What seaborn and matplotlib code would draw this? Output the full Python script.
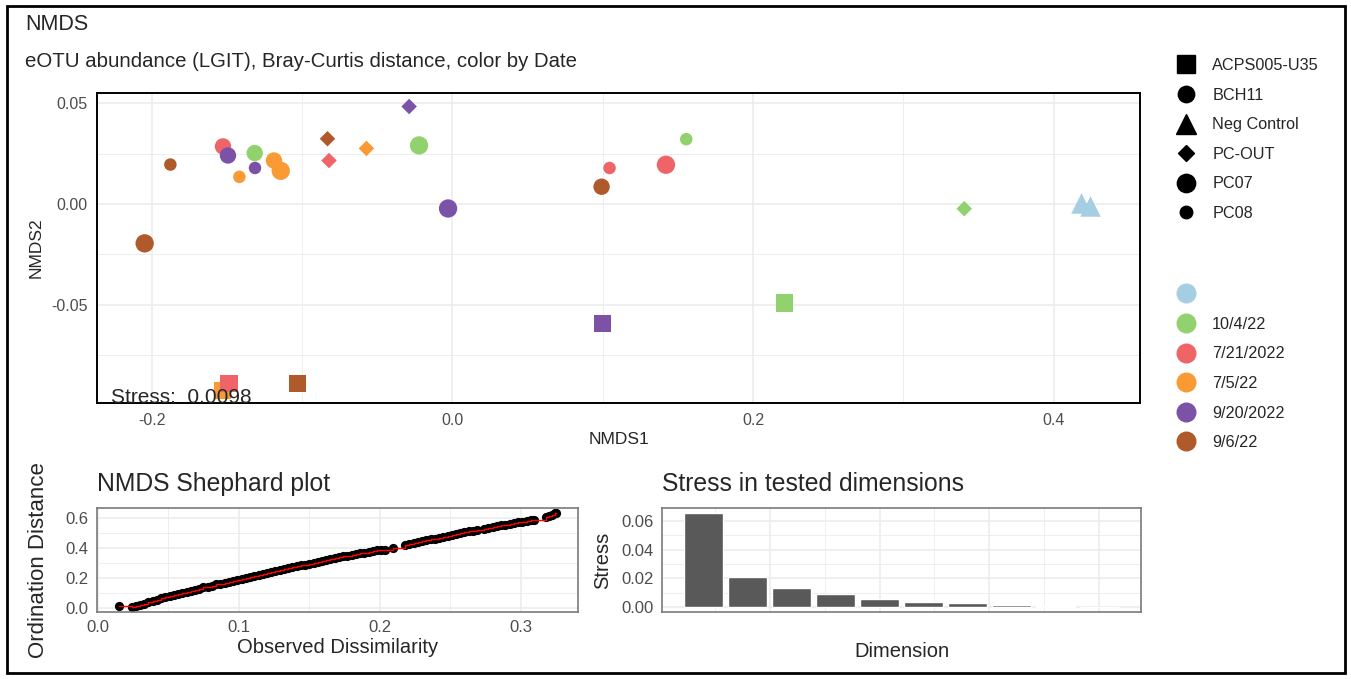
import pandas as pd
import seaborn as sns
import matplotlib.pyplot as plt
from matplotlib.lines import Line2D
from matplotlib.patches import Rectangle

# NMDS site scores
site = (["ACPS005-U35"] * 5 + ["BCH11"] * 5 + ["Neg Control"] * 2
        + ["PC-OUT"] * 5 + ["PC07"] * 5 + ["PC08"] * 5)
date = ["7/5/22", "7/21/2022", "9/6/22", "9/20/2022", "10/4/22",
        "7/21/2022", "9/20/2022", "10/4/22", "7/5/22", "9/6/22",
        "", "",
        "9/6/22", "7/21/2022", "7/5/22", "9/20/2022", "10/4/22",
        "9/6/22", "7/5/22", "10/4/22", "9/20/2022", "7/21/2022",
        "9/6/22", "7/5/22", "9/20/2022", "7/21/2022", "10/4/22"]
nmds1 = [-0.1528, -0.1485, -0.1030, 0.0999, 0.2208,
         -0.1525, -0.1492, -0.1314, -0.1186, 0.0993,
         0.4185, 0.4245,
         -0.0830, -0.0820, -0.0571, -0.0287, 0.3405,
         -0.2046, -0.1141, -0.0221, -0.0028, 0.1421,
         -0.1875, -0.1416, -0.1312, 0.1046, 0.1556]
nmds2 = [-0.0924, -0.0891, -0.0891, -0.0592, -0.0491,
         0.0286, 0.0241, 0.0253, 0.0216, 0.0086,
         0.0003, -0.0012,
         0.0324, 0.0216, 0.0276, 0.0484, -0.0023,
         -0.0195, 0.0165, 0.0291, -0.0022, 0.0195,
         0.0196, 0.0135, 0.0179, 0.0179, 0.0322]

site_levels = ["ACPS005-U35", "BCH11", "Neg Control", "PC-OUT", "PC07", "PC08"]
date_levels = ["", "10/4/22", "7/21/2022", "7/5/22", "9/20/2022", "9/6/22"]

# Shephard diagram (observed dissimilarity vs ordination distance)
obs_dissim = [0.015, 0.024, 0.027, 0.030, 0.033, 0.036, 0.039, 0.042, 0.045, 0.048,
              0.051, 0.054, 0.057, 0.060, 0.063, 0.066, 0.069, 0.072, 0.075, 0.078,
              0.081, 0.084, 0.087, 0.090, 0.093, 0.096, 0.099, 0.102, 0.105, 0.108,
              0.111, 0.114, 0.117, 0.120, 0.123, 0.126, 0.129, 0.132, 0.135, 0.138,
              0.141, 0.144, 0.147, 0.150, 0.153, 0.156, 0.159, 0.162, 0.165, 0.168,
              0.171, 0.174, 0.177, 0.180, 0.183, 0.186, 0.189, 0.192, 0.195, 0.198,
              0.201, 0.204, 0.209, 0.218, 0.221, 0.224, 0.227, 0.230, 0.233, 0.236,
              0.239, 0.242, 0.245, 0.248, 0.251, 0.254, 0.257, 0.260, 0.263, 0.266,
              0.269, 0.274, 0.277, 0.280, 0.283, 0.286, 0.289, 0.292, 0.295, 0.298,
              0.301, 0.304, 0.307, 0.309, 0.318, 0.320, 0.322, 0.324, 0.325]
ord_dist = [0.012, 0.006, 0.015, 0.022, 0.030, 0.038, 0.046, 0.055, 0.064, 0.072,
            0.080, 0.087, 0.094, 0.101, 0.108, 0.116, 0.123, 0.130, 0.137, 0.143,
            0.150, 0.157, 0.163, 0.169, 0.175, 0.182, 0.188, 0.195, 0.201, 0.208,
            0.214, 0.220, 0.226, 0.233, 0.240, 0.247, 0.254, 0.260, 0.265, 0.271,
            0.277, 0.283, 0.289, 0.295, 0.300, 0.306, 0.312, 0.318, 0.324, 0.330,
            0.337, 0.343, 0.348, 0.354, 0.359, 0.364, 0.369, 0.374, 0.378, 0.383,
            0.386, 0.388, 0.401, 0.419, 0.426, 0.431, 0.437, 0.443, 0.450, 0.456,
            0.462, 0.468, 0.474, 0.480, 0.486, 0.492, 0.498, 0.504, 0.509, 0.514,
            0.519, 0.527, 0.532, 0.538, 0.544, 0.549, 0.555, 0.560, 0.565, 0.570,
            0.575, 0.579, 0.583, 0.586, 0.608, 0.612, 0.620, 0.630, 0.634]

# stress for each tested dimension
dims = [1, 2, 3, 4, 5, 6, 7, 8, 9, 10]
stress_dim = [0.0655, 0.0207, 0.0132, 0.0095, 0.0056, 0.0035, 0.0027, 0.0015, 0.0010, 0.0005]

# styles
date_colors = ["#A6CEE3", "#91D26F", "#EE6467", "#F99A35", "#7C52A6", "#B0592A"]
site_markers = ["s", "o", "^", "D", "o", "o"]
site_ms = [12.5, 11.8, 14.8, 7.9, 13.2, 9.0]

sns.set_style("white")
plt.rcParams["font.family"] = ["Liberation Sans", "DejaVu Sans"]

W, H = 1351, 679
fig = plt.figure(figsize=(W / 100, H / 100), dpi=100)


def box(l, t, r, b):
    return [l / W, 1 - b / H, (r - l) / W, (b - t) / H]


def style_grid(ax, gridc="#EBEBEB"):
    ax.set_axisbelow(True)
    ax.grid(which="major", color=gridc, lw=1.1)
    ax.grid(which="minor", color=gridc, lw=0.6)
    ax.tick_params(which="minor", length=0)


# ---- main NMDS ordination ----
ax = fig.add_axes(box(97, 93, 1140, 403))
df = pd.DataFrame({"Site": site, "Date": date, "NMDS1": nmds1, "NMDS2": nmds2})
sns.scatterplot(data=df, x="NMDS1", y="NMDS2", hue="Date", style="Site", size="Site",
                hue_order=date_levels, style_order=site_levels, size_order=site_levels,
                palette=dict(zip(date_levels, date_colors)),
                markers=dict(zip(site_levels, site_markers)),
                sizes=dict(zip(site_levels, [m ** 2 for m in site_ms])),
                linewidth=0, legend=False, ax=ax)
ax.set_xlim(-0.2363, 0.4574)
ax.set_ylim(-0.0987, 0.0551)
ax.set_xticks([-0.2, 0.0, 0.2, 0.4], ["-0.2", "0.0", "0.2", "0.4"])
ax.set_xticks([-0.1, 0.1, 0.3], minor=True)
ax.set_yticks([-0.05, 0.0, 0.05], ["-0.05", "0.00", "0.05"])
ax.set_yticks([-0.075, -0.025, 0.025], minor=True)
style_grid(ax)
ax.tick_params(which="major", length=4, width=1, color="#333333",
               labelcolor="#4D4D4D", labelsize=11.5, pad=3)
for sp in ax.spines.values():
    sp.set_color("black")
    sp.set_linewidth(1.4)
ax.set_xlabel("NMDS1", fontsize=12.5, labelpad=3)
ax.set_ylabel("NMDS2", fontsize=12.5, labelpad=5)
ax.text(-0.2267, -0.0987, "Stress:  0.0098", fontsize=15, ha="left", va="baseline")

fig.text(25 / W, 1 - 30 / H, "NMDS", fontsize=15.5, ha="left", va="baseline")
fig.text(25 / W, 1 - 67 / H, "eOTU abundance (LGIT), Bray-Curtis distance, color by Date",
         fontsize=14.7, ha="left", va="baseline")

# legends
shape_handles = [Line2D([], [], ls="none", marker=m, color="black", markersize=s)
                 for m, s in zip(site_markers, site_ms)]
leg1 = fig.legend(shape_handles, site_levels, loc="upper left",
                  bbox_to_anchor=(1178 / W, 1 - 58 / H), frameon=False, fontsize=11.7,
                  handlelength=1.0, handletextpad=1.1, labelspacing=0.9,
                  borderpad=0, borderaxespad=0)
color_handles = [Line2D([], [], ls="none", marker="o", color=c, markersize=13.4)
                 for c in date_colors]
leg2 = fig.legend(color_handles, date_levels, loc="upper left",
                  bbox_to_anchor=(1178 / W, 1 - 287 / H), frameon=False, fontsize=11.7,
                  handlelength=1.0, handletextpad=1.1, labelspacing=0.9,
                  borderpad=0, borderaxespad=0)

# ---- Shephard plot ----
ax2 = fig.add_axes(box(97, 508, 578, 612))
sns.scatterplot(x=obs_dissim, y=ord_dist, color="black", s=44, linewidth=0, ax=ax2)
sns.lineplot(x=obs_dissim, y=ord_dist, color="red", lw=1, drawstyle="steps-post",
             estimator=None, ax=ax2)
ax2.set_xlim(-0.0005, 0.3405)
ax2.set_ylim(-0.026, 0.665)
ax2.set_xticks([0.0, 0.1, 0.2, 0.3], ["0.0", "0.1", "0.2", "0.3"])
ax2.set_xticks([0.05, 0.15, 0.25], minor=True)
ax2.set_yticks([0.0, 0.2, 0.4, 0.6], ["0.0", "0.2", "0.4", "0.6"])
ax2.set_yticks([0.1, 0.3, 0.5], minor=True)
ax2.set_title("NMDS Shephard plot", fontsize=17.8, loc="left", pad=12)
ax2.set_xlabel("Observed Dissimilarity", fontsize=14.5, labelpad=2)
ax2.set_ylabel("Ordination Distance", fontsize=16, labelpad=12)

# ---- stress per dimension ----
ax3 = fig.add_axes(box(662, 508, 1141, 612))
sns.barplot(x=dims, y=stress_dim, native_scale=True, orient="x", color="#595959",
            saturation=1, width=0.9, ax=ax3)
ax3.set_xlim(0.055, 10.945)
ax3.set_ylim(-0.0033, 0.069)
ax3.set_xticks([2.5, 5.0, 7.5, 10.0], ["", "", "", ""])
ax3.set_xticks([1.25, 3.75, 6.25, 8.75], minor=True)
ax3.set_yticks([0.0, 0.02, 0.04, 0.06], ["0.00", "0.02", "0.04", "0.06"])
ax3.set_yticks([0.01, 0.03, 0.05], minor=True)
ax3.set_title("Stress in tested dimensions", fontsize=17.8, loc="left", pad=12)
ax3.set_xlabel("Dimension", fontsize=14.5, labelpad=15.5)
ax3.set_ylabel("Stress", fontsize=14.5, labelpad=6.5)

for a in (ax2, ax3):
    style_grid(a)
    a.tick_params(which="major", length=4, width=1, color="#333333",
                  labelcolor="#4D4D4D", labelsize=12, pad=2)
    for sp in a.spines.values():
        sp.set_color("#7A7A7A")
        sp.set_linewidth(1.2)

# outer frame
fig.patches.append(Rectangle((7 / W, 6 / H), 1 - 13 / W, 1 - 12 / H, transform=fig.transFigure,
                             fill=False, ec="black", lw=2))

fig.savefig("out.png", dpi=100)
